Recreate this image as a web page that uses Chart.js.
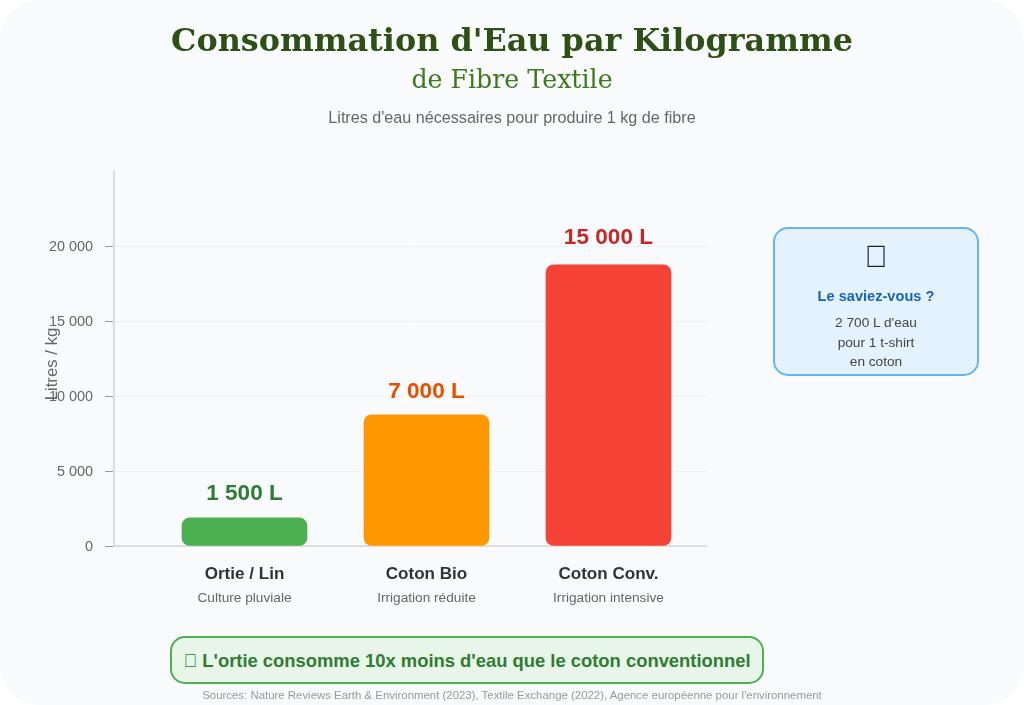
<!DOCTYPE html>
<html lang="fr">
<head>
<meta charset="utf-8">
<title>Consommation d'Eau par Kilogramme</title>
<script src="https://cdn.jsdelivr.net/npm/chart.js@4"></script>
<style>
html, body { margin: 0; padding: 0; background: #fff; }
#page { position: relative; width: 1024px; height: 705px; background: #f9fafb; border-radius: 40px; overflow: hidden; font-family: "Liberation Sans", Arial, sans-serif; }
#page canvas { position: absolute; left: 0; top: 0; }
.line { position: absolute; left: 0; width: 1024px; text-align: center; white-space: nowrap; transform: translateY(-50%); }
#title { top: 40px; font: bold 31.86px "DejaVu Serif", serif; color: #2d5016; }
#subtitle { top: 79px; font: 25.25px "DejaVu Serif", serif; color: #3d7a1e; }
#desc { top: 117px; font-size: 16.15px; color: #666; }
#sources { top: 695px; font-size: 11.42px; color: #999; }
#fact { position: absolute; left: 773px; top: 227px; width: 202px; height: 145px; background: #e3f2fd; border: 2px solid #64b5f6; border-radius: 15px; }
#fact div { position: absolute; left: 0; width: 202px; text-align: center; transform: translateY(-50%); white-space: nowrap; }
#factIcon { top: 28px; font-size: 31px; color: #222; }
#factHead { top: 67px; font-size: 14.6px; font-weight: bold; color: #1565c0; }
.factText { font-size: 13.66px; color: #444; }
#note { position: absolute; left: 170px; top: 636px; width: 590px; height: 44px; line-height: 46px; text-align: center; background: #e8f5e9; border: 2px solid #4caf50; border-radius: 15px; font-size: 18.4px; font-weight: bold; color: #2e7d32; white-space: nowrap; }
</style>
</head>
<body>
<div id="page">
    <canvas id="waterChart" width="1024" height="705"></canvas>
    <div class="line" id="title">Consommation d'Eau par Kilogramme</div>
    <div class="line" id="subtitle">de Fibre Textile</div>
    <div class="line" id="desc">Litres d'eau nécessaires pour produire 1 kg de fibre</div>
    <div id="fact">
        <div id="factIcon">&#xE000;</div>
        <div id="factHead">Le saviez-vous ?</div>
        <div class="factText" style="top:93px">2 700 L d'eau</div>
        <div class="factText" style="top:113px">pour 1 t-shirt</div>
        <div class="factText" style="top:132px">en coton</div>
    </div>
    <div id="note">&#xE000; L'ortie consomme 10x moins d'eau que le coton conventionnel</div>
    <div class="line" id="sources">Sources: Nature Reviews Earth &amp; Environment (2023), Textile Exchange (2022), Agence européenne pour l'environnement</div>
</div>
<script>
var categories = ["Ortie / Lin", "Coton Bio", "Coton Conv."];
var subLabels = ["Culture pluviale", "Irrigation réduite", "Irrigation intensive"];
// bar heights as read against the y axis (the printed labels are lower than the bars)
var barValues = [1875, 8750, 18750];
var valueLabels = ["1 500 L", "7 000 L", "15 000 L"];
var barColors = ["#4caf50", "#ff9800", "#f44336"];
var labelColors = ["#2e7d32", "#e65100", "#c62828"];
var yTicks = [0, 5000, 10000, 15000, 20000, 25000];
var yTickLabels = ["0", "5 000", "10 000", "15 000", "20 000", ""];
var yTitle = "Litres / kg";

var positions = categories.map(function (c, i) { return i + 1; });
var labelGaps = [24, 23, 27];

var textPlugin = {
    id: "textPlugin",
    afterDatasetsDraw: function (chart) {
        var ctx = chart.ctx;
        var x = chart.scales.x;
        var y = chart.scales.y;
        ctx.save();
        ctx.textAlign = "center";
        ctx.textBaseline = "middle";
        categories.forEach(function (name, i) {
            var px = x.getPixelForValue(positions[i]);
            ctx.font = "bold 22.6px 'Liberation Sans', Arial, sans-serif";
            ctx.fillStyle = labelColors[i];
            ctx.fillText(valueLabels[i], px, y.getPixelForValue(barValues[i]) - labelGaps[i]);
            ctx.font = "bold 17.07px 'Liberation Sans', Arial, sans-serif";
            ctx.fillStyle = "#333";
            ctx.fillText(name, px, 574.5);
            ctx.font = "13.66px 'Liberation Sans', Arial, sans-serif";
            ctx.fillStyle = "#666";
            ctx.fillText(subLabels[i], px, 598);
        });
        ctx.translate(52, 364);
        ctx.rotate(-Math.PI / 2);
        ctx.font = "16.8px 'Liberation Sans', Arial, sans-serif";
        ctx.fillStyle = "#666";
        ctx.fillText(yTitle, 0, 0);
        ctx.restore();
    }
};

var chart = new Chart(document.getElementById("waterChart").getContext("2d"), {
    type: "bar",
    data: {
        datasets: [{
            data: barValues.map(function (v, i) { return { x: positions[i], y: v }; }),
            backgroundColor: barColors,
            barThickness: 125,
            borderRadius: 8,
            borderSkipped: false
        }]
    },
    options: {
        responsive: false,
        animation: false,
        layout: { padding: { left: 0, top: 171, right: 318, bottom: 0 } },
        plugins: { legend: { display: false }, tooltip: { enabled: false } },
        scales: {
            x: {
                type: "linear",
                offset: false,
                min: 0.283,
                max: 3.536,
                afterFit: function (scale) { scale.height = 159; },
                ticks: { display: false },
                grid: { display: false },
                border: { color: "#ddd", width: 2 }
            },
            y: {
                min: 0,
                max: 25000,
                afterFit: function (scale) { scale.width = 114; },
                afterBuildTicks: function (scale) {
                    scale.ticks = yTicks.map(function (v) { return { value: v }; });
                },
                ticks: {
                    color: "#666",
                    font: { size: 14.4, family: "'Liberation Sans', Arial, sans-serif" },
                    padding: 12,
                    labelOffset: 1.5,
                    callback: function (value) { return yTickLabels[yTicks.indexOf(value)]; }
                },
                grid: {
                    color: function (c) { return c.tick && c.tick.value === 25000 ? "transparent" : "#f0f0f0"; },
                    tickColor: function (c) { return c.tick && c.tick.value === 25000 ? "transparent" : "#999"; },
                    tickLength: 9,
                    lineWidth: 1
                },
                border: { color: "#ddd", width: 2 }
            }
        }
    },
    plugins: [textPlugin]
});
</script>
</body>
</html>
